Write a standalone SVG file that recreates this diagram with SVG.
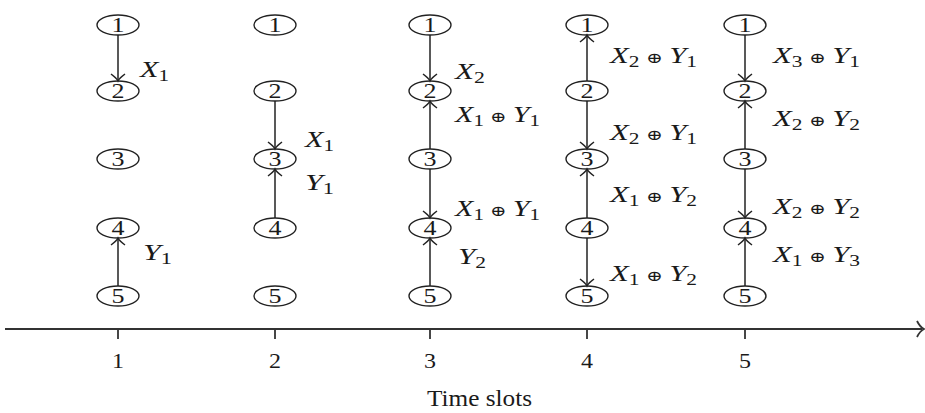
<svg xmlns="http://www.w3.org/2000/svg" width="925" height="413" viewBox="0 0 925 413">
<style>
.nd ellipse{fill:none;stroke:#222;stroke-width:1.4}
.nd text{font-family:"Liberation Serif","DejaVu Serif",serif;font-size:22px;fill:#1a1a1a;text-anchor:middle}
.cn line{stroke:#222;stroke-width:1.5;marker-end:url(#ah)}
.lb{font-family:"Liberation Serif","DejaVu Serif",serif;font-size:23px;fill:#1a1a1a}
.lb .v{font-style:italic}
.lb .s{font-size:16px}
.lb .o{font-family:"DejaVu Serif",serif;font-size:15px}
.ax{stroke:#333;stroke-width:1.8;fill:none}
.tk{font-family:"Liberation Serif",serif;font-size:22px;fill:#1a1a1a;text-anchor:middle}
</style>
<defs>
<marker id="ah" viewBox="-10 -10 20 20" markerWidth="20" markerHeight="20" refX="0" refY="0" orient="auto" markerUnits="userSpaceOnUse">
<path d="M -7 -7 Q -3 -1.5 0 0 Q -3 1.5 -7 7" fill="none" stroke="#222" stroke-width="1.5"/>
</marker>
</defs>

<!-- nodes -->
<g class="nd" id="t1-n1"><ellipse cx="118" cy="25" rx="21" ry="10"/><text x="118" y="32" textLength="13" lengthAdjust="spacingAndGlyphs">1</text></g>
<g class="nd" id="t1-n2"><ellipse cx="118" cy="91" rx="21" ry="10"/><text x="118" y="98" textLength="13" lengthAdjust="spacingAndGlyphs">2</text></g>
<g class="nd" id="t1-n3"><ellipse cx="118" cy="159" rx="21" ry="10"/><text x="118" y="166" textLength="13" lengthAdjust="spacingAndGlyphs">3</text></g>
<g class="nd" id="t1-n4"><ellipse cx="118" cy="228" rx="21" ry="10"/><text x="118" y="235" textLength="13" lengthAdjust="spacingAndGlyphs">4</text></g>
<g class="nd" id="t1-n5"><ellipse cx="118" cy="296" rx="21" ry="10"/><text x="118" y="303" textLength="13" lengthAdjust="spacingAndGlyphs">5</text></g>

<g class="nd" id="t2-n1"><ellipse cx="275" cy="25" rx="21" ry="10"/><text x="275" y="32" textLength="13" lengthAdjust="spacingAndGlyphs">1</text></g>
<g class="nd" id="t2-n2"><ellipse cx="275" cy="91" rx="21" ry="10"/><text x="275" y="98" textLength="13" lengthAdjust="spacingAndGlyphs">2</text></g>
<g class="nd" id="t2-n3"><ellipse cx="275" cy="159" rx="21" ry="10"/><text x="275" y="166" textLength="13" lengthAdjust="spacingAndGlyphs">3</text></g>
<g class="nd" id="t2-n4"><ellipse cx="275" cy="228" rx="21" ry="10"/><text x="275" y="235" textLength="13" lengthAdjust="spacingAndGlyphs">4</text></g>
<g class="nd" id="t2-n5"><ellipse cx="275" cy="296" rx="21" ry="10"/><text x="275" y="303" textLength="13" lengthAdjust="spacingAndGlyphs">5</text></g>

<g class="nd" id="t3-n1"><ellipse cx="430" cy="25" rx="21" ry="10"/><text x="430" y="32" textLength="13" lengthAdjust="spacingAndGlyphs">1</text></g>
<g class="nd" id="t3-n2"><ellipse cx="430" cy="91" rx="21" ry="10"/><text x="430" y="98" textLength="13" lengthAdjust="spacingAndGlyphs">2</text></g>
<g class="nd" id="t3-n3"><ellipse cx="430" cy="159" rx="21" ry="10"/><text x="430" y="166" textLength="13" lengthAdjust="spacingAndGlyphs">3</text></g>
<g class="nd" id="t3-n4"><ellipse cx="430" cy="228" rx="21" ry="10"/><text x="430" y="235" textLength="13" lengthAdjust="spacingAndGlyphs">4</text></g>
<g class="nd" id="t3-n5"><ellipse cx="430" cy="296" rx="21" ry="10"/><text x="430" y="303" textLength="13" lengthAdjust="spacingAndGlyphs">5</text></g>

<g class="nd" id="t4-n1"><ellipse cx="587" cy="25" rx="21" ry="10"/><text x="587" y="32" textLength="13" lengthAdjust="spacingAndGlyphs">1</text></g>
<g class="nd" id="t4-n2"><ellipse cx="587" cy="91" rx="21" ry="10"/><text x="587" y="98" textLength="13" lengthAdjust="spacingAndGlyphs">2</text></g>
<g class="nd" id="t4-n3"><ellipse cx="587" cy="159" rx="21" ry="10"/><text x="587" y="166" textLength="13" lengthAdjust="spacingAndGlyphs">3</text></g>
<g class="nd" id="t4-n4"><ellipse cx="587" cy="228" rx="21" ry="10"/><text x="587" y="235" textLength="13" lengthAdjust="spacingAndGlyphs">4</text></g>
<g class="nd" id="t4-n5"><ellipse cx="587" cy="296" rx="21" ry="10"/><text x="587" y="303" textLength="13" lengthAdjust="spacingAndGlyphs">5</text></g>

<g class="nd" id="t5-n1"><ellipse cx="745" cy="25" rx="21" ry="10"/><text x="745" y="32" textLength="13" lengthAdjust="spacingAndGlyphs">1</text></g>
<g class="nd" id="t5-n2"><ellipse cx="745" cy="91" rx="21" ry="10"/><text x="745" y="98" textLength="13" lengthAdjust="spacingAndGlyphs">2</text></g>
<g class="nd" id="t5-n3"><ellipse cx="745" cy="159" rx="21" ry="10"/><text x="745" y="166" textLength="13" lengthAdjust="spacingAndGlyphs">3</text></g>
<g class="nd" id="t5-n4"><ellipse cx="745" cy="228" rx="21" ry="10"/><text x="745" y="235" textLength="13" lengthAdjust="spacingAndGlyphs">4</text></g>
<g class="nd" id="t5-n5"><ellipse cx="745" cy="296" rx="21" ry="10"/><text x="745" y="303" textLength="13" lengthAdjust="spacingAndGlyphs">5</text></g>

<!-- connectors -->
<g class="cn" id="connectors">
<line x1="118" y1="35" x2="118" y2="81"/>
<line x1="118" y1="286" x2="118" y2="238"/>

<line x1="275" y1="101" x2="275" y2="149"/>
<line x1="275" y1="218" x2="275" y2="169"/>

<line x1="430" y1="35" x2="430" y2="81"/>
<line x1="430" y1="149" x2="430" y2="101"/>
<line x1="430" y1="169" x2="430" y2="218"/>
<line x1="430" y1="286" x2="430" y2="238"/>

<line x1="587" y1="81" x2="587" y2="35"/>
<line x1="587" y1="101" x2="587" y2="149"/>
<line x1="587" y1="218" x2="587" y2="169"/>
<line x1="587" y1="238" x2="587" y2="286"/>

<line x1="745" y1="35" x2="745" y2="81"/>
<line x1="745" y1="149" x2="745" y2="101"/>
<line x1="745" y1="169" x2="745" y2="218"/>
<line x1="745" y1="286" x2="745" y2="238"/>
</g>

<!-- connector labels -->
<g id="labels">
<text class="lb" x="140" y="77" textLength="29" lengthAdjust="spacingAndGlyphs"><tspan class="v">X</tspan><tspan class="s" dy="4">1</tspan></text>
<text class="lb" x="143" y="260" textLength="29" lengthAdjust="spacingAndGlyphs"><tspan class="v">Y</tspan><tspan class="s" dy="4">1</tspan></text>

<text class="lb" x="305" y="147" textLength="29" lengthAdjust="spacingAndGlyphs"><tspan class="v">X</tspan><tspan class="s" dy="4">1</tspan></text>
<text class="lb" x="305" y="190" textLength="29" lengthAdjust="spacingAndGlyphs"><tspan class="v">Y</tspan><tspan class="s" dy="4">1</tspan></text>

<text class="lb" x="455" y="79" textLength="30" lengthAdjust="spacingAndGlyphs"><tspan class="v">X</tspan><tspan class="s" dy="4">2</tspan></text>
<text class="lb" x="455" y="122" textLength="85" lengthAdjust="spacingAndGlyphs"><tspan class="v">X</tspan><tspan class="s" dy="4">1</tspan><tspan class="o" dy="-4"> ⊕ </tspan><tspan class="v">Y</tspan><tspan class="s" dy="4">1</tspan></text>
<text class="lb" x="455" y="216" textLength="85" lengthAdjust="spacingAndGlyphs"><tspan class="v">X</tspan><tspan class="s" dy="4">1</tspan><tspan class="o" dy="-4"> ⊕ </tspan><tspan class="v">Y</tspan><tspan class="s" dy="4">1</tspan></text>
<text class="lb" x="458" y="264" textLength="28" lengthAdjust="spacingAndGlyphs"><tspan class="v">Y</tspan><tspan class="s" dy="4">2</tspan></text>

<text class="lb" x="610" y="63" textLength="87" lengthAdjust="spacingAndGlyphs"><tspan class="v">X</tspan><tspan class="s" dy="4">2</tspan><tspan class="o" dy="-4"> ⊕ </tspan><tspan class="v">Y</tspan><tspan class="s" dy="4">1</tspan></text>
<text class="lb" x="610" y="140" textLength="87" lengthAdjust="spacingAndGlyphs"><tspan class="v">X</tspan><tspan class="s" dy="4">2</tspan><tspan class="o" dy="-4"> ⊕ </tspan><tspan class="v">Y</tspan><tspan class="s" dy="4">1</tspan></text>
<text class="lb" x="610" y="202" textLength="87" lengthAdjust="spacingAndGlyphs"><tspan class="v">X</tspan><tspan class="s" dy="4">1</tspan><tspan class="o" dy="-4"> ⊕ </tspan><tspan class="v">Y</tspan><tspan class="s" dy="4">2</tspan></text>
<text class="lb" x="610" y="281" textLength="87" lengthAdjust="spacingAndGlyphs"><tspan class="v">X</tspan><tspan class="s" dy="4">1</tspan><tspan class="o" dy="-4"> ⊕ </tspan><tspan class="v">Y</tspan><tspan class="s" dy="4">2</tspan></text>

<text class="lb" x="773" y="63" textLength="87" lengthAdjust="spacingAndGlyphs"><tspan class="v">X</tspan><tspan class="s" dy="4">3</tspan><tspan class="o" dy="-4"> ⊕ </tspan><tspan class="v">Y</tspan><tspan class="s" dy="4">1</tspan></text>
<text class="lb" x="773" y="126" textLength="87" lengthAdjust="spacingAndGlyphs"><tspan class="v">X</tspan><tspan class="s" dy="4">2</tspan><tspan class="o" dy="-4"> ⊕ </tspan><tspan class="v">Y</tspan><tspan class="s" dy="4">2</tspan></text>
<text class="lb" x="773" y="214" textLength="87" lengthAdjust="spacingAndGlyphs"><tspan class="v">X</tspan><tspan class="s" dy="4">2</tspan><tspan class="o" dy="-4"> ⊕ </tspan><tspan class="v">Y</tspan><tspan class="s" dy="4">2</tspan></text>
<text class="lb" x="773" y="262" textLength="87" lengthAdjust="spacingAndGlyphs"><tspan class="v">X</tspan><tspan class="s" dy="4">1</tspan><tspan class="o" dy="-4"> ⊕ </tspan><tspan class="v">Y</tspan><tspan class="s" dy="4">3</tspan></text>
</g>

<!-- time axis -->
<g id="axis">
<line class="ax" x1="5" y1="329" x2="922" y2="329"/>
<path class="ax" d="M 917 321 Q 920 327 924 329 Q 920 331 917 337"/>
<line class="ax" x1="118" y1="329" x2="118" y2="339"/>
<line class="ax" x1="275" y1="329" x2="275" y2="339"/>
<line class="ax" x1="430" y1="329" x2="430" y2="339"/>
<line class="ax" x1="587" y1="329" x2="587" y2="339"/>
<line class="ax" x1="745" y1="329" x2="745" y2="339"/>
<text class="tk" x="118" y="368" textLength="12" lengthAdjust="spacingAndGlyphs">1</text>
<text class="tk" x="275" y="368" textLength="12" lengthAdjust="spacingAndGlyphs">2</text>
<text class="tk" x="430" y="368" textLength="12" lengthAdjust="spacingAndGlyphs">3</text>
<text class="tk" x="587" y="368" textLength="12" lengthAdjust="spacingAndGlyphs">4</text>
<text class="tk" x="745" y="368" textLength="12" lengthAdjust="spacingAndGlyphs">5</text>
<text x="427" y="406" font-family="Liberation Serif, serif" font-size="24" fill="#1a1a1a" textLength="105" lengthAdjust="spacingAndGlyphs">Time slots</text>
</g>
</svg>
